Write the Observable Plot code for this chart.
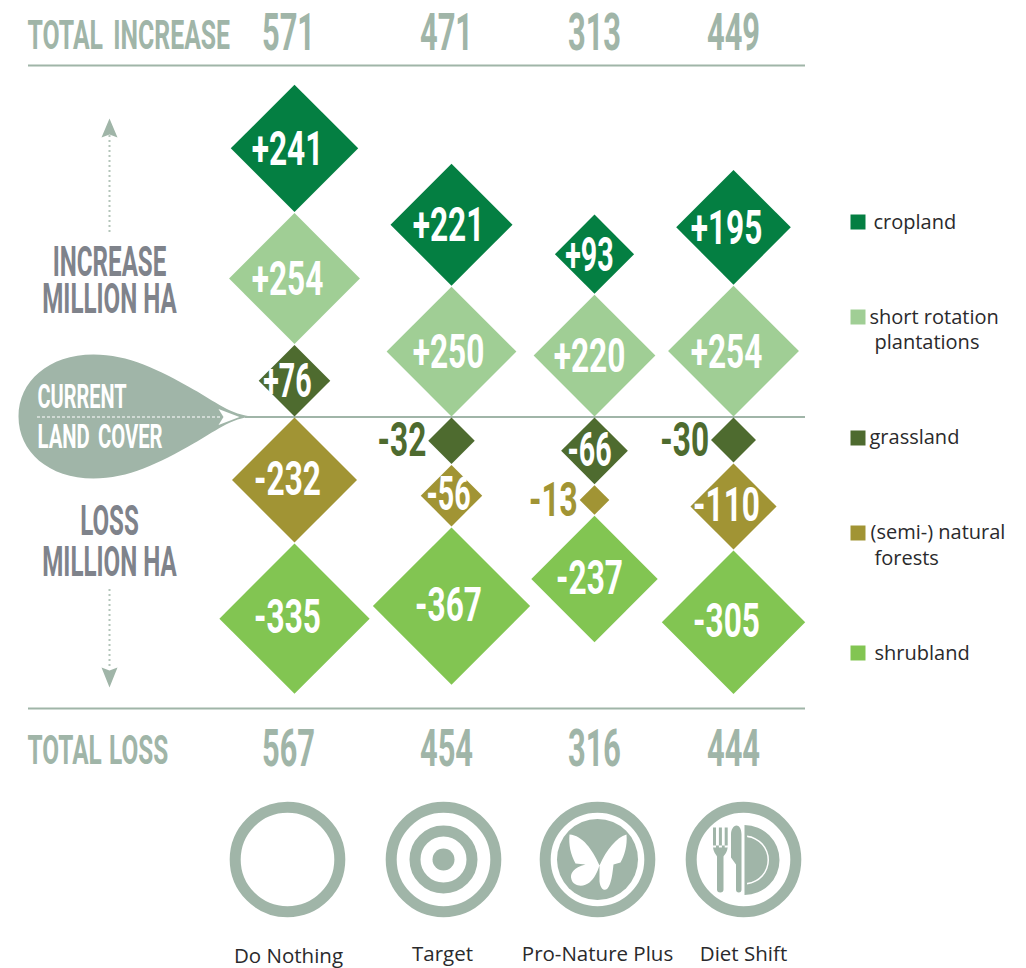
<!DOCTYPE html>
<html>
<head>
<meta charset="utf-8">
<script src="https://cdn.jsdelivr.net/npm/d3@7"></script>
<script src="https://cdn.jsdelivr.net/npm/@observablehq/plot@0.6"></script>
<style>
html,body{margin:0;padding:0;background:#fff;overflow:hidden}
svg{display:block}
</style>
</head>
<body>
<div id="chart"></div>
<script>
const scenarios = ["Do Nothing", "Target", "Pro-Nature Plus", "Diet Shift"];
const landCovers = ["cropland", "short rotation plantations", "grassland", "(semi-) natural forests", "shrubland"];
const coverColors = ["#047f42", "#a0ce95", "#4e6b2f", "#a19434", "#82c552"];
const totalIncrease = [571, 471, 313, 449];
const totalLoss = [567, 454, 316, 444];
const cropland = [241, 221, 93, 195];
const plantations = [254, 250, 220, 254];
const grassland = [76, -32, -66, -30];
const forests = [-232, -56, -13, -110];
const shrubland = [-335, -367, -237, -305];

const SAGE = "#a0b5a8", GREY = "#7f838b", FONT = "'Liberation Sans Narrow','Roboto',sans-serif", BASE = 416;
const columnX = d3.scaleOrdinal(scenarios, [294, 451, 594, 733]);
const labelX = d3.scaleOrdinal(scenarios, [287, 448, 589, 726]);
const totalX = d3.scaleOrdinal(scenarios, [288, 446, 594, 733]);
const iconX = d3.scaleOrdinal(scenarios, [287, 443, 597, 743]);
const nameX = d3.scaleOrdinal(scenarios, [288, 442, 597, 743]);
const rScale = d3.scaleSqrt([0, 400], [0, 82.1]);

// stack diamonds tip to tip, away from the current land cover line
const diamonds = [];
scenarios.forEach((scenario, i) => {
  let up = BASE, down = BASE + 1;
  const add = (cover, value) => {
    const r = rScale(Math.abs(value));
    let y;
    if (value > 0) { y = up - r; up -= 2 * r + 1; }
    else { y = down + r; down += 2 * r + 1; }
    diamonds.push({scenario, cover, value, r, y, x: columnX(scenario),
      label: (value > 0 ? "+" : "-") + Math.abs(value)});
  };
  add(landCovers[2], grassland[i]);
  add(landCovers[1], plantations[i]);
  add(landCovers[0], cropland[i]);
  add(landCovers[3], forests[i]);
  add(landCovers[4], shrubland[i]);
});
const inside3 = diamonds.filter(d => Math.abs(d.value) >= 100);
const inside2 = diamonds.filter(d => Math.abs(d.value) >= 35 && Math.abs(d.value) < 100);
const outside = diamonds.filter(d => Math.abs(d.value) < 35);

// symbols
const diamond = {draw(c, size) {
  const h = Math.sqrt(size / Math.PI);
  c.moveTo(0, -h); c.lineTo(h, 0); c.lineTo(0, h); c.lineTo(-h, 0); c.closePath();
}};
const shape = fn => ({draw: c => fn(c)});
const square = shape(c => c.rect(-7.5, -7.5, 15, 15));
const teardrop = shape(c => {
  c.moveTo(0, 0);
  c.bezierCurveTo(-22, -1, -40, -16, -60, -27);
  c.bezierCurveTo(-95, -47, -125, -62, -160, -62);
  c.bezierCurveTo(-205, -62, -235, -35, -235, 0);
  c.bezierCurveTo(-235, 35, -205, 62, -160, 62);
  c.bezierCurveTo(-125, 62, -95, 47, -60, 27);
  c.bezierCurveTo(-40, 16, -22, 1, 0, 0);
  c.closePath();
});
const chevron = shape(c => {
  c.moveTo(0, 0); c.lineTo(-21, -8); c.lineTo(-16, 0); c.lineTo(-21, 8); c.closePath();
});
const headUp = shape(c => { c.moveTo(0, 0); c.lineTo(8, 19); c.lineTo(0, 16); c.lineTo(-8, 19); c.closePath(); });
const headDown = shape(c => { c.moveTo(0, 0); c.lineTo(8, -20); c.lineTo(0, -17); c.lineTo(-8, -20); c.closePath(); });
const butterfly = shape(c => {
  c.moveTo(2, 6);
  c.bezierCurveTo(-5, -10, -15, -24, -28, -25);
  c.bezierCurveTo(-29, -15, -27, -5, -22, 4);
  c.lineTo(-12, 5);
  c.bezierCurveTo(-24, 8, -28, 14, -26, 20);
  c.bezierCurveTo(-24, 27, -14, 28, -8, 23);
  c.bezierCurveTo(-3, 19, 0, 12, 2, 6);
  c.closePath();
  c.moveTo(2, 6);
  c.bezierCurveTo(9, -10, 19, -22, 29, -25);
  c.bezierCurveTo(30, -14, 27, -4, 23, 3);
  c.lineTo(16, 5);
  c.bezierCurveTo(15, 14, 14, 24, 10, 29);
  c.bezierCurveTo(7, 32, 3, 30, 2, 22);
  c.closePath();
});
const cutlery = shape(c => {
  // fork
  c.rect(-30.5, -32, 3, 20); c.rect(-24.6, -32, 3, 20); c.rect(-18.8, -32, 3, 20);
  c.moveTo(-30.5, -14); c.bezierCurveTo(-30.5, -7, -27, -5, -26.5, -3);
  c.lineTo(-26.5, 30); c.quadraticCurveTo(-26.5, 33, -23.2, 33); c.quadraticCurveTo(-20, 33, -20, 30);
  c.lineTo(-20, -3); c.bezierCurveTo(-19, -5, -15.8, -7, -15.8, -14); c.closePath();
  // knife
  c.moveTo(-2, -25); c.bezierCurveTo(-2, -31, -4.5, -34, -7, -34);
  c.bezierCurveTo(-10, -34, -12.5, -30, -12.5, -25);
  c.lineTo(-12.5, -2); c.lineTo(-7.5, 5); c.lineTo(-7.5, 30);
  c.quadraticCurveTo(-7.5, 33, -4.7, 33); c.quadraticCurveTo(-2, 33, -2, 30); c.closePath();
  // plate
  c.moveTo(1, -34.5); c.arc(1, 0.5, 35, -Math.PI / 2, Math.PI / 2); c.closePath();
});
const plateLine = shape(c => {
  c.moveTo(3.5, -23.5); c.arc(1, 0.5, 24.5, -1.47, 1.47);
  c.lineTo(3.5, 23.5); c.arc(1, 0.5, 23, 1.45, -1.45, true); c.closePath();
});

// narrow the type around its anchor point
const squeeze = (sx, wordSpacing) => (index, scales, values, dims, ctx, next) => {
  const g = next(index, scales, values, dims, ctx);
  d3.select(g).selectAll("text").each(function () {
    this.setAttribute("transform", (this.getAttribute("transform") || "") + ` scale(${sx},1)`);
    if (wordSpacing) this.style.wordSpacing = wordSpacing;
  });
  return g;
};
const condensed = (data, options, sx = 0.645, ws) => Plot.text(data, {
  fontFamily: FONT, fontWeight: 700, textAnchor: "middle", lineAnchor: "middle",
  render: squeeze(sx, ws), ...options});

const totalsRows = scenarios.map((s, i) => ({s, inc: totalIncrease[i], loss: totalLoss[i]}));
const legendRows = landCovers.map((c, i) => ({cover: c, y: [221.5, 316.5, 437.5, 532.5, 652.5][i]}));
const legendText = [
  {t: "cropland", x: 873, y: 222}, {t: "short rotation", x: 869, y: 317}, {t: "plantations", x: 874, y: 342},
  {t: "grassland", x: 869, y: 437}, {t: "(semi-) natural", x: 870, y: 532}, {t: "forests", x: 874, y: 558},
  {t: "shrubland", x: 874, y: 653}
];
const labelY = d => d.value > 0 ? d.y + 1 : d.y - 1;

const plot = Plot.plot({
  width: 1026, height: 968, margin: 0,
  style: {background: "#fff"},
  x: {domain: [0, 1026], range: [0, 1026], axis: null},
  y: {domain: [0, 968], range: [0, 968], axis: null},
  r: {type: "sqrt", domain: [0, 400], range: [0, 82.1]},
  color: {domain: landCovers, range: coverColors},
  marks: [
    // frame rules
    Plot.ruleY([65, 708], {x1: 28, x2: 805, stroke: SAGE, strokeWidth: 2}),
    Plot.ruleY([416.5], {x1: 245, x2: 805, stroke: SAGE, strokeWidth: 2}),
    // totals
    condensed(["TOTAL INCREASE"], {text: d => d, x: 27, y: 35, textAnchor: "start", fontSize: 41, fill: SAGE}, 0.605, "7px"),
    condensed(["TOTAL LOSS"], {text: d => d, x: 27, y: 750, textAnchor: "start", fontSize: 41, fill: SAGE}, 0.595, "2px"),
    condensed(totalsRows, {text: "inc", x: d => totalX(d.s), y: 33, fontSize: 51, fill: SAGE}, 0.605),
    condensed(totalsRows, {text: "loss", x: d => totalX(d.s), y: 749, fontSize: 51, fill: SAGE}, 0.605),
    // current land cover drop
    Plot.dot([0], {x: () => 253, y: () => BASE, symbol: teardrop, fill: SAGE, stroke: "none"}),
    Plot.ruleY([416.5], {x1: 37, x2: 222, stroke: "#fff", strokeWidth: 1.2, strokeDasharray: "3 2"}),
    Plot.dot([0], {x: () => 239, y: () => 416.5, symbol: chevron, fill: "#fff", stroke: "none"}),
    condensed(["CURRENT"], {text: d => d, x: 37, y: 397, textAnchor: "start", fontSize: 33, fill: "#fff"}, 0.605),
    condensed(["LAND COVER"], {text: d => d, x: 37, y: 437, textAnchor: "start", fontSize: 33, fill: "#fff"}, 0.615, "5px"),
    // side labels and arrows
    condensed(["INCREASE\nMILLION HA"], {text: d => d, x: () => 109, y: () => 282.5, fontSize: 42, lineHeight: 0.88, fill: GREY}, 0.575),
    condensed(["LOSS\nMILLION HA"], {text: d => d, x: () => 109, y: () => 541.5, fontSize: 42, lineHeight: 0.98, fill: GREY}, 0.575),
    Plot.ruleX([109], {y1: 135, y2: 232, stroke: "#b4c5ba", strokeWidth: 2, strokeDasharray: "2 3"}),
    Plot.ruleX([109], {y1: 589, y2: 668, stroke: "#b4c5ba", strokeWidth: 2, strokeDasharray: "2 3"}),
    Plot.dot([0], {x: () => 109, y: () => 118, symbol: headUp, fill: SAGE, stroke: "none"}),
    Plot.dot([0], {x: () => 109, y: () => 687, symbol: headDown, fill: SAGE, stroke: "none"}),
    // diamonds
    Plot.dot(diamonds, {x: "x", y: "y", r: d => Math.abs(d.value), symbol: diamond, fill: "cover", stroke: "none"}),
    condensed(inside3, {text: "label", x: d => labelX(d.scenario), y: labelY, fontSize: 49, fill: "#fff"}),
    condensed(inside2, {text: "label", x: d => labelX(d.scenario), y: labelY, fontSize: 49, fill: "#fff"}, 0.585),
    condensed(outside, {text: "label", x: d => d.x - d.r - 2, y: "y", textAnchor: "end", fontSize: 49, fill: "cover"}),
    // legend
    Plot.dot(legendRows, {x: () => 857.5, y: "y", symbol: square, fill: "cover", stroke: "none"}),
    Plot.text(legendText, {text: "t", x: "x", y: "y", textAnchor: "start", lineAnchor: "middle", fontFamily: "'Open Sans',sans-serif", fontSize: 20, fill: "#2a2a2c"}),
    // scenario icons
    Plot.dot(scenarios, {x: d => iconX(d), y: () => 859, r: 52.3, stroke: SAGE, strokeWidth: 11, fill: "none"}),
    Plot.dot(["Target"], {x: d => iconX(d), y: () => 859, r: 28.5, stroke: SAGE, strokeWidth: 11, fill: "none"}),
    Plot.dot(["Target"], {x: d => iconX(d), y: () => 859, r: 11, fill: SAGE, stroke: "none"}),
    Plot.dot(["Pro-Nature Plus"], {x: d => iconX(d), y: () => 859, r: 40.5, fill: SAGE, stroke: "none"}),
    Plot.dot(["Pro-Nature Plus"], {x: d => iconX(d), y: () => 859, symbol: butterfly, fill: "#fff", stroke: "none"}),
    Plot.dot(["Diet Shift"], {x: d => iconX(d), y: () => 859, symbol: cutlery, fill: SAGE, stroke: "none"}),
    Plot.dot(["Diet Shift"], {x: d => iconX(d), y: () => 859, symbol: plateLine, fill: "#fff", stroke: "none"}),
    // scenario names
    Plot.text(scenarios, {text: d => d, x: d => nameX(d), y: d => d === "Do Nothing" ? 956 : 954, textAnchor: "middle", lineAnchor: "middle", fontFamily: "'Open Sans',sans-serif", fontSize: 20.5, fill: "#2a2a2c"})
  ]
});
document.getElementById("chart").append(plot);
</script>
</body>
</html>
